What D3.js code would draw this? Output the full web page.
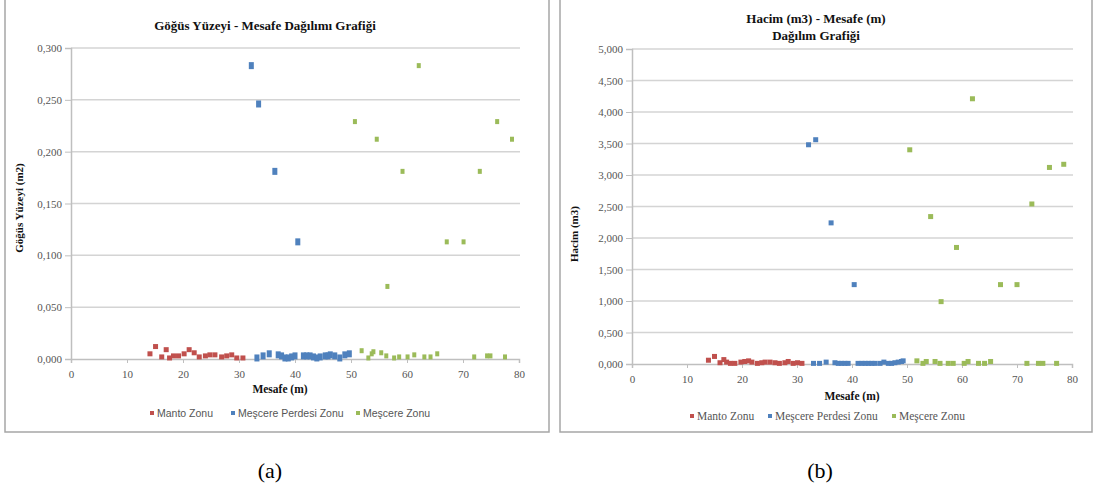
<!DOCTYPE html>
<html>
<head>
<meta charset="utf-8">
<script src="https://cdn.jsdelivr.net/npm/d3@7"></script>
<style>
  body { margin: 0; background: #fff; }
  svg text { font-family: "Liberation Serif", "Times New Roman", serif; }
</style>
</head>
<body>
<svg id="fig" width="1094" height="497"></svg>
<script>
'use strict';
// (a) Göğüs yüzeyi - mesafe
const aMantoX = [14.1, 15.1, 16.2, 17.0, 17.6, 18.3, 19.2, 20.2, 21.1, 22.0, 22.9, 24.0, 24.8, 25.7, 26.9, 27.8, 28.7, 29.6, 30.7];
const aMantoY = [0.005, 0.012, 0.002, 0.009, 0.001, 0.003, 0.003, 0.005, 0.009, 0.006, 0.002, 0.003, 0.004, 0.004, 0.002, 0.003, 0.004, 0.001, 0.001];
const aPerdeX = [32.2, 33.5, 36.4, 40.5, 33.2, 34.3, 35.4, 37.0, 37.6, 38.2, 38.8, 39.4, 40.0, 41.5, 42.1, 42.7, 43.3, 43.9, 44.5, 45.4, 45.9, 46.3, 47.1, 48.0, 48.9, 49.7];
const aPerdeY = [0.283, 0.246, 0.181, 0.113, 0.001, 0.003, 0.005, 0.004, 0.003, 0.001, 0.001, 0.002, 0.003, 0.003, 0.003, 0.003, 0.002, 0.001, 0.002, 0.003, 0.003, 0.004, 0.003, 0.001, 0.004, 0.005];
const aMescX = [50.7, 54.6, 59.2, 62.1, 56.5, 67.1, 70.1, 73.0, 76.1, 78.75, 51.9, 53.1, 53.7, 54.0, 55.4, 56.3, 57.7, 58.6, 60.1, 61.3, 63.1, 64.2, 65.4, 72.0, 74.3, 74.9, 77.5];
const aMescY = [0.229, 0.212, 0.181, 0.283, 0.070, 0.113, 0.113, 0.181, 0.229, 0.212, 0.008, 0.001, 0.005, 0.007, 0.006, 0.003, 0.001, 0.002, 0.002, 0.004, 0.002, 0.002, 0.005, 0.002, 0.003, 0.003, 0.002];
const aYTicks = [0, 0.05, 0.1, 0.15, 0.2, 0.25, 0.3];

// (b) Hacim - mesafe
const bMantoX = [13.9, 15.0, 16.0, 16.7, 17.2, 17.9, 18.7, 19.8, 20.5, 21.2, 21.8, 22.8, 23.6, 24.2, 25.1, 26.0, 26.8, 27.8, 28.4, 29.3, 30.1, 30.9];
const bMantoY = [0.06, 0.12, 0.02, 0.07, 0.03, 0.01, 0.01, 0.03, 0.04, 0.05, 0.03, 0.01, 0.02, 0.03, 0.03, 0.02, 0.01, 0.02, 0.04, 0.01, 0.02, 0.01];
const bPerdeX = [32.1, 33.4, 36.2, 40.4, 33.0, 34.1, 35.3, 36.9, 37.5, 38.1, 38.7, 39.3, 41.1, 41.8, 42.4, 43.0, 43.6, 44.2, 45.1, 45.8, 46.6, 47.2, 47.8, 48.4, 49.0, 49.3];
const bPerdeY = [3.48, 3.56, 2.24, 1.26, 0.01, 0.01, 0.03, 0.02, 0.01, 0.01, 0.01, 0.01, 0.01, 0.01, 0.01, 0.01, 0.01, 0.01, 0.01, 0.03, 0.01, 0.01, 0.02, 0.03, 0.04, 0.05];
const bMescX = [50.5, 54.3, 56.2, 59.0, 61.9, 67.0, 70.0, 72.7, 75.9, 78.5, 51.8, 52.9, 53.5, 55.1, 56.0, 57.5, 58.4, 60.4, 61.1, 63.0, 64.1, 65.2, 71.8, 73.9, 74.7, 77.2];
const bMescY = [3.40, 2.34, 0.99, 1.85, 4.21, 1.26, 1.26, 2.54, 3.12, 3.17, 0.05, 0.01, 0.04, 0.04, 0.01, 0.01, 0.01, 0.01, 0.04, 0.01, 0.01, 0.04, 0.01, 0.01, 0.01, 0.01];
const bYTicks = [0, 0.5, 1, 1.5, 2, 2.5, 3, 3.5, 4, 4.5, 5];

const xTicks = [0, 10, 20, 30, 40, 50, 60, 70, 80];
const seriesNames = ['Manto Zonu', 'Meşcere Perdesi Zonu', 'Meşcere Zonu'];
const colors = ['#c0504d', '#4f81bd', '#9bbb59'];

const svg = d3.select('#fig');
const fmt = d => d3.format('.3f')(d).replace('.', ',');

function pairs(xs, ys) { return xs.map((x, i) => ({x: x, y: ys[i]})); }

function drawChart(o) {
	const g = svg.append('g');

	// cerceve
	g.append('rect')
		.attr('x', o.frame[0]).attr('y', o.frame[1])
		.attr('width', o.frame[2]).attr('height', o.frame[3])
		.attr('fill', 'none').attr('stroke', '#a6a6a6').attr('stroke-width', 1.5);

	const x = d3.scaleLinear().domain([0, 80]).range([o.left, o.right]);
	const y = d3.scaleLinear().domain([0, o.yMax]).range([o.bottom, o.top]);

	// grid
	g.selectAll('.grid').data(o.yTicks.slice(1)).enter().append('line')
		.attr('x1', o.left).attr('x2', o.right + 1)
		.attr('y1', d => y(d)).attr('y2', d => y(d))
		.attr('stroke', '#d4d4d4').attr('stroke-width', 1.5);

	const yAxis = d3.axisLeft(y).tickValues(o.yTicks).tickFormat(fmt).tickSize(6).tickPadding(3);
	const ya = g.append('g').attr('transform', `translate(${o.left},0)`).call(yAxis);
	const xAxis = d3.axisBottom(x).tickValues(xTicks).tickSize(4).tickPadding(7);
	const xa = g.append('g').attr('transform', `translate(0,${o.bottom})`).call(xAxis);
	[ya, xa].forEach(a => {
		a.select('.domain').attr('stroke', '#bfbfbf').attr('stroke-width', 1.5);
		a.selectAll('.tick line').attr('stroke', '#bfbfbf');
		a.selectAll('.tick text').attr('fill', '#555').style('font-size', '11px')
			.style('font-family', '"Liberation Serif", serif');
	});
	xa.selectAll('.tick').filter(d => d === 0).select('line').remove();

	// noktalar
	o.series.forEach((s, i) => {
		g.selectAll('.s' + i).data(s).enter().append('rect')
			.attr('x', d => x(d.x) - o.mw[i] / 2)
			.attr('y', d => y(d.y) - o.mh[i] / 2)
			.attr('width', o.mw[i]).attr('height', o.mh[i])
			.attr('fill', colors[i]);
	});

	// basliklar
	const t = g.append('text').attr('text-anchor', 'middle')
		.attr('font-weight', 'bold').style('font-size', '13px').attr('fill', '#111');
	o.title.forEach((line, i) => {
		t.append('tspan').attr('x', o.titleX).attr('y', o.titleY + i * 17).text(line);
	});

	g.append('text').attr('transform', `translate(${o.yLabelX},${o.yLabelY}) rotate(-90)`)
		.attr('text-anchor', 'middle').attr('font-weight', 'bold')
		.style('font-size', '11px').attr('fill', '#111').text(o.yLabel);

	g.append('text').attr('x', o.xLabelX).attr('y', o.xLabelY)
		.attr('text-anchor', 'middle').attr('font-weight', 'bold')
		.style('font-size', '11.5px').attr('fill', '#111').text('Mesafe (m)');

	// lejant
	o.legendX.forEach((lx, i) => {
		g.append('rect').attr('x', lx - 2).attr('y', o.legendY - 6).attr('width', 4).attr('height', 4)
			.attr('fill', colors[i]);
		g.append('text').attr('x', lx + 5).attr('y', o.legendY)
			.style('font-family', o.legendFont).style('font-size', o.legendSize)
			.attr('fill', '#555').text(seriesNames[i]);
	});
}

drawChart({
	frame: [5, -2, 544, 434],
	left: 71, right: 519, top: 48, bottom: 359, yMax: 0.3,
	yTicks: aYTicks,
	series: [pairs(aMantoX, aMantoY), pairs(aPerdeX, aPerdeY), pairs(aMescX, aMescY)],
	mw: [5, 5, 4], mh: [5, 7, 5],
	title: ['Göğüs Yüzeyi - Mesafe Dağılımı Grafiği'], titleX: 265, titleY: 30,
	yLabel: 'Göğüs Yüzeyi (m2)', yLabelX: 23, yLabelY: 208,
	xLabelX: 280, xLabelY: 393,
	legendX: [152, 233, 358], legendY: 417,
	legendFont: '"Liberation Sans", sans-serif', legendSize: '10.5px'
});

drawChart({
	frame: [560, -2, 532, 434],
	left: 632, right: 1072, top: 49, bottom: 364, yMax: 5,
	yTicks: bYTicks,
	series: [pairs(bMantoX, bMantoY), pairs(bPerdeX, bPerdeY), pairs(bMescX, bMescY)],
	mw: [5, 5, 5], mh: [5, 5, 5],
	title: ['Hacim (m3) - Mesafe (m)', 'Dağılım Grafiği'], titleX: 816, titleY: 23,
	yLabel: 'Hacim  (m3)', yLabelX: 578, yLabelY: 234,
	xLabelX: 852, xLabelY: 400,
	legendX: [692, 770, 894], legendY: 420,
	legendFont: '"Liberation Serif", serif', legendSize: '11.5px'
});

// alt yazilar
svg.append('text').attr('x', 270).attr('y', 478).attr('text-anchor', 'middle')
	.style('font-size', '22px').attr('fill', '#000').text('(a)');
svg.append('text').attr('x', 820).attr('y', 478).attr('text-anchor', 'middle')
	.style('font-size', '22px').attr('fill', '#000').text('(b)');
</script>
</body>
</html>
